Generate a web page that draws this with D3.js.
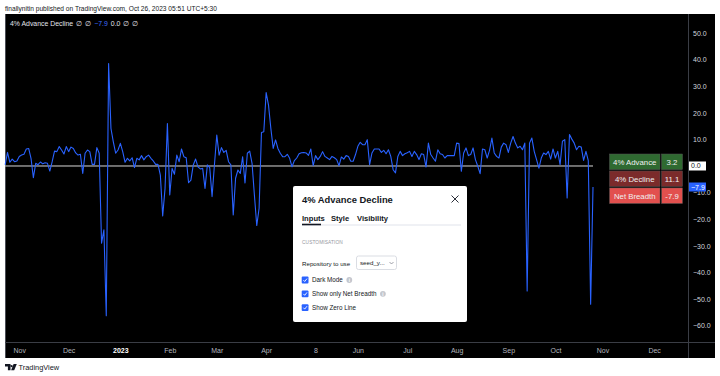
<!DOCTYPE html>
<html>
<head>
<meta charset="utf-8">
<script src="https://cdn.jsdelivr.net/npm/d3@7"></script>
<style>
body { margin: 0; background: #fff; }
svg { display: block; font-family: "Liberation Sans", Arial, sans-serif; }
</style>
</head>
<body>
<div id="figure"></div>
<script>
// 4% advance decline - net breadth, one value per NSE trading day
var netBreadth = [
    0.4, 5.1, 1.4, 2.6, 1.6, 1.9, 3.6, 4.1, 4.4, 6.4,
    6.6, 2.9, -4.4, 1.0, 0.5, 1.5, 0.8, 1.2, 1.0, -1.9,
    1.6, 5.6, 5.4, 7.3, 6.0, 4.5, 7.3, 5.4, 7.1, 6.6,
    4.9, 4.1, 4.4, -2.8, 4.8, 6.0, 5.4, 0.6, 0.6, 6.9,
    4.8, -29.0, -24.0, -56.3, 38.5, 14.1, 9.1, 4.8, 6.0, 8.5,
    5.4, 1.4, 2.9, 1.9, 3.1, -0.6, 2.9, 2.3, 3.9, 2.3,
    3.5, 4.1, 2.9, 1.9, 0.6, 0.6, -3.4, -18.8, -8.4, 16.0,
    -10.9, -0.9, -3.1, 4.1, 1.6, 6.4, 3.5, 3.1, -6.3, -5.3,
    0.4, 2.6, -0.3, -1.1, -0.9, -8.4, 0.4, -0.6, -11.5, 0.4,
    11.6, 4.1, 6.9, 5.1, 5.9, 1.6, 0.4, -18.4, -4.6, -1.5,
    -2.8, 3.5, -6.4, 4.8, 5.6, 1.0, -10.9, -22.4, -15.9, 12.6,
    12.9, 27.6, 22.9, 14.1, 6.6, 9.8, 6.6, 4.8, 3.5, 3.5,
    4.4, 2.9, -0.3, 2.0, 3.0, 4.6, 5.0, 5.1, 4.9, 4.0,
    6.4, 0.1, 3.9, 2.4, 3.6, 5.4, 3.6, 3.0, 2.4, 3.6,
    3.1, 2.4, 0.1, 3.4, 2.6, 3.9, 3.6, 1.8, 1.8, 4.3,
    7.4, 8.9, 8.0, 8.0, 9.9, 0.5, 4.9, 6.4, 6.4, 6.4,
    5.1, 5.9, 4.6, 6.1, 3.6, -1.4, -2.6, 3.6, 5.5, 3.9,
    4.6, 5.0, 5.5, 3.6, 5.5, 4.3, 2.4, 4.6, 4.3, -0.4,
    8.6, 4.3, 3.0, 1.8, 6.1, 4.6, 4.3, 3.0, 3.9, 3.9,
    3.9, 3.9, 8.6, 8.4, -2.0, 4.9, 6.8, 3.9, 4.3, 6.8,
    2.4, -0.1, -2.9, 6.4, 6.1, 3.0, 5.9, 10.5, 4.9, 3.6,
    3.0, 7.1, 8.6, 8.0, 5.1, 8.6, 11.1, 8.6, 6.8, 7.4,
    6.1, 8.6, -47.0, 8.6, 10.5, 5.5, 2.4, -0.8, 3.0, 4.9,
    4.3, 5.5, 2.6, 6.4, 3.0, 5.5, 0.5, 9.3, 9.9, -12.0,
    11.8, 10.1, 8.6, 6.1, 7.4, 7.1, 2.1, 5.5, 2.0, -52.0,
    -7.9
];

var firstDay = "2022-10-21";
var lastDay = "2023-10-26";
var holidays = ["2022-10-26", "2022-11-08", "2023-01-26", "2023-03-07", "2023-03-30",
    "2023-04-04", "2023-04-07", "2023-04-14", "2023-05-01", "2023-06-29",
    "2023-08-15", "2023-09-19", "2023-10-02", "2023-10-24"];

var timeTickDates = ["2022-11-01", "2022-12-01", "2023-01-02", "2023-02-01", "2023-03-01",
    "2023-04-03", "2023-05-08", "2023-06-01", "2023-07-03", "2023-08-01",
    "2023-09-01", "2023-10-03", "2023-11-01", "2023-12-01"];
var timeTickLabels = ["Nov", "Dec", "2023", "Feb", "Mar", "Apr", "8", "Jun", "Jul", "Aug", "Sep", "Oct", "Nov", "Dec"];

var priceTicks = [50, 40, 30, 20, 10, 0, -10, -20, -30, -40, -50, -60];

var tableNames = ["4% Advance", "4% Decline", "Net Breadth"];
var tableValues = ["3.2", "11.1", "-7.9"];
var tableColors = ["#2f6a31", "#7b2b2b", "#e2504e"];

var inputLabels = ["Dark Mode", "Show only Net Breadth", "Show Zero Line"];
var inputHasInfo = [true, true, false];

var width = 720, height = 376;
var blue = "#2962ff";

var svg = d3.select("#figure").append("svg")
    .attr("width", width)
    .attr("height", height)

svg.append("rect").attr("width", width).attr("height", height).attr("fill", "#fff")

svg.append("text")
    .attr("x", 5).attr("y", 10.5)
    .attr("font-size", 6.6)
    .attr("fill", "#131722")
    .text("finallynitin published on TradingView.com, Oct 26, 2023 05:51 UTC+5:30")

// chart panel
var panel = { left: 5, top: 14, right: 715, bottom: 358 };
var plot = { left: 5, top: 14, right: 688, bottom: 342 };

svg.append("rect")
    .attr("x", panel.left).attr("y", panel.top)
    .attr("width", panel.right - panel.left).attr("height", panel.bottom - panel.top)
    .attr("fill", "#000")

svg.append("line")
    .attr("x1", panel.left + 0.5).attr("x2", panel.left + 0.5)
    .attr("y1", panel.top).attr("y2", panel.bottom)
    .attr("stroke", "#4a4d55")
svg.append("line")
    .attr("x1", panel.left).attr("x2", panel.right)
    .attr("y1", plot.bottom + 0.5).attr("y2", plot.bottom + 0.5)
    .attr("stroke", "#3a3d45")
svg.append("line")
    .attr("x1", plot.right + 0.5).attr("x2", plot.right + 0.5)
    .attr("y1", panel.top).attr("y2", panel.bottom)
    .attr("stroke", "#3a3d45")

// trading days (weekdays minus exchange holidays)
var parse = d3.utcParse("%Y-%m-%d");
var fmt = d3.utcFormat("%Y-%m-%d");
var isWeekday = function (d) { return d.getUTCDay() != 0 && d.getUTCDay() != 6; };
var tradingDays = d3.utcDay.range(parse(firstDay), d3.utcDay.offset(parse(lastDay), 1))
    .filter(function (d) { return isWeekday(d) && holidays.indexOf(fmt(d)) < 0; });

var barIndex = function (s) {
    var d = parse(s);
    var i = d3.bisectLeft(tradingDays, d);
    if (i < tradingDays.length) return i;
    var extra = d3.utcDay.range(d3.utcDay.offset(parse(lastDay), 1), d3.utcDay.offset(d, 1)).filter(isWeekday).length;
    return tradingDays.length - 1 + extra;
};

var x = d3.scaleLinear()
    .domain([0, netBreadth.length - 1])
    .range([5.15, 593]);

var y = d3.scaleLinear()
    .domain([-66.17, 57.14])
    .range([plot.bottom, plot.top]);

var lastVal = netBreadth[netBreadth.length - 1];
var priceTags = [
    { v: 0, text: "0.0", bg: "#fff", fg: "#131722" },
    { v: lastVal, text: "\u22127.9", bg: blue, fg: "#fff" }
];

// price axis (a tick hidden where a price tag sits on top of it)
var visiblePriceTicks = priceTicks.filter(function (t) {
    return !priceTags.some(function (p) { return Math.abs(y(p.v) - y(t)) < 4; });
});
var yAxis = svg.append("g")
    .attr("transform", "translate(" + (plot.right + 3) + ",0)")
    .call(d3.axisRight(y).tickValues(visiblePriceTicks).tickSize(0).tickPadding(2).tickFormat(d3.format(".1f")))
yAxis.select(".domain").remove()
yAxis.selectAll("text")
    .attr("fill", "#d1d4dc")
    .attr("font-size", 7)
    .attr("font-family", "Liberation Sans, Arial, sans-serif")

// time axis
var xAxis = svg.append("g")
    .attr("transform", "translate(0," + plot.bottom + ")")
    .call(d3.axisBottom(x)
        .tickValues(timeTickDates.map(barIndex))
        .tickSize(0).tickPadding(6)
        .tickFormat(function (d, i) { return timeTickLabels[i]; }))
xAxis.select(".domain").remove()
xAxis.selectAll("text")
    .attr("fill", function (d, i) { return timeTickLabels[i] == "2023" ? "#fff" : "#b2b5be"; })
    .attr("font-weight", function (d, i) { return timeTickLabels[i] == "2023" ? "bold" : null; })
    .attr("font-size", 7)
    .attr("font-family", "Liberation Sans, Arial, sans-serif")

// zero line
svg.append("line")
    .attr("x1", x(0)).attr("x2", x(netBreadth.length - 1))
    .attr("y1", y(0)).attr("y2", y(0))
    .attr("stroke", "#d8d8d8").attr("stroke-width", 1)

svg.append("path")
    .datum(netBreadth)
    .attr("fill", "none")
    .attr("stroke", blue)
    .attr("stroke-width", 1.1)
    .attr("stroke-linejoin", "round")
    .attr("d", d3.line().x(function (d, i) { return x(i); }).y(function (d) { return y(d); }))

// legend
var legend = svg.append("text")
    .attr("x", 10).attr("y", 25.5)
    .attr("font-size", 6.9)
    .attr("fill", "#e0e3eb")
legend.append("tspan").text("4% Advance Decline")
legend.append("tspan").attr("dx", 3).text("\u2205")
legend.append("tspan").attr("dx", 2.5).text("\u2205")
legend.append("tspan").attr("dx", 3.5).attr("fill", "#3f6fff").text("\u22127.9")
legend.append("tspan").attr("dx", 3).text("0.0")
legend.append("tspan").attr("dx", 3).text("\u2205")
legend.append("tspan").attr("dx", 2.5).text("\u2205")

// price labels on the scale
priceTags.forEach(function (t) {
    svg.append("rect")
        .attr("x", plot.right + 1).attr("y", y(t.v) - 4.5)
        .attr("width", 17).attr("height", 9)
        .attr("fill", t.bg)
    svg.append("text")
        .attr("x", plot.right + 3).attr("y", y(t.v) + 2.5)
        .attr("font-size", 7)
        .attr("fill", t.fg)
        .text(t.text)
})

// table
var rowY = d3.scaleBand().domain(tableNames).range([154, 203.5]).paddingInner(0.08);
tableNames.forEach(function (n, i) {
    var ry = rowY(n), rh = rowY.bandwidth();
    svg.append("rect").attr("x", 609.5).attr("y", ry).attr("width", 50.5).attr("height", rh)
        .attr("fill", tableColors[i]).attr("stroke", "#555").attr("stroke-width", 0.5)
    svg.append("rect").attr("x", 661.5).attr("y", ry).attr("width", 21).attr("height", rh)
        .attr("fill", tableColors[i]).attr("stroke", "#555").attr("stroke-width", 0.5)
    svg.append("text").attr("x", 634.75).attr("y", ry + rh / 2 + 2.8)
        .attr("text-anchor", "middle").attr("font-size", 7.8).attr("fill", "#f0f0f0").text(n)
    svg.append("text").attr("x", 672).attr("y", ry + rh / 2 + 2.8)
        .attr("text-anchor", "middle").attr("font-size", 7.8).attr("fill", "#f0f0f0").text(tableValues[i])
})

// settings dialog
var dlg = svg.append("g")
dlg.append("rect")
    .attr("x", 293).attr("y", 186).attr("width", 174).attr("height", 136)
    .attr("rx", 2).attr("fill", "#fff")
dlg.append("text").attr("x", 302).attr("y", 202.5)
    .attr("font-size", 9.4).attr("font-weight", "bold").attr("fill", "#131722")
    .text("4% Advance Decline")
dlg.append("path").attr("d", "M451.5,195.5L458.5,202.5M458.5,195.5L451.5,202.5")
    .attr("stroke", "#131722").attr("stroke-width", 0.9)

var tabs = [["Inputs", 302], ["Style", 331], ["Visibility", 357]];
tabs.forEach(function (t) {
    dlg.append("text").attr("x", t[1]).attr("y", 220.5)
        .attr("font-size", 7.6).attr("font-weight", "bold").attr("fill", "#131722").text(t[0])
})
dlg.append("line").attr("x1", 302).attr("x2", 461).attr("y1", 225).attr("y2", 225)
    .attr("stroke", "#e0e3eb").attr("stroke-width", 1)
dlg.append("line").attr("x1", 302).attr("x2", 321).attr("y1", 224.5).attr("y2", 224.5)
    .attr("stroke", "#131722").attr("stroke-width", 1.6)

dlg.append("text").attr("x", 302).attr("y", 244)
    .attr("font-size", 4.8).attr("fill", "#9598a1").attr("letter-spacing", 0.1).text("CUSTOMISATION")

dlg.append("text").attr("x", 302).attr("y", 265.5)
    .attr("font-size", 6.2).attr("fill", "#131722").text("Repository to use")
dlg.append("rect").attr("x", 356.5).attr("y", 256).attr("width", 40).attr("height", 13.5)
    .attr("rx", 2).attr("fill", "#fff").attr("stroke", "#d1d4dc").attr("stroke-width", 0.8)
dlg.append("text").attr("x", 360).attr("y", 265.3)
    .attr("font-size", 6.2).attr("fill", "#131722").text("seed_y...")
dlg.append("path").attr("d", "M389.5,262L391.5,264L393.5,262")
    .attr("fill", "none").attr("stroke", "#787b86").attr("stroke-width", 0.7)

inputLabels.forEach(function (lab, i) {
    var cy = 280 + i * 13.8;
    dlg.append("rect").attr("x", 301.7).attr("y", cy - 3.4).attr("width", 6.8).attr("height", 6.8)
        .attr("rx", 1).attr("fill", blue)
    dlg.append("path").attr("d", "M303.4," + (cy + 0.1) + "L304.7," + (cy + 1.5) + "L307," + (cy - 1.4))
        .attr("fill", "none").attr("stroke", "#fff").attr("stroke-width", 0.9)
    var t = dlg.append("text").attr("x", 312).attr("y", cy + 2.3)
        .attr("font-size", 6.3).attr("fill", "#131722").text(lab)
    if (inputHasInfo[i]) {
        var w = t.node().getComputedTextLength();
        dlg.append("circle").attr("cx", 312 + w + 6.5).attr("cy", cy).attr("r", 2.9).attr("fill", "#c4c7ce")
        dlg.append("text").attr("x", 312 + w + 6.5).attr("y", cy + 1.8).attr("text-anchor", "middle")
            .attr("font-size", 4.5).attr("font-weight", "bold").attr("fill", "#fff").text("i")
    }
})

// footer logo
svg.append("path")
    .attr("d", "M5,364h5.5v6.2h-2.6v-3.8h-2.9z M11.6,364.9a1,1 0 1,0 0.01,0z M13.6,364h3.2l-2.6,6.2h-3.1z")
    .attr("fill", "#131722")
svg.append("text").attr("x", 18.5).attr("y", 370)
    .attr("font-size", 7.4).attr("fill", "#131722").text("TradingView")
</script>
</body>
</html>
